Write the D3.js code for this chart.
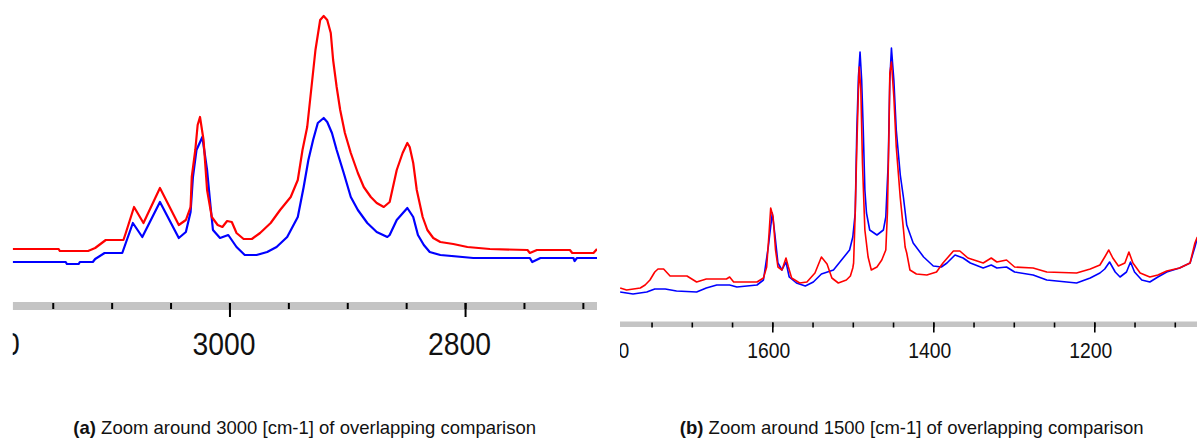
<!DOCTYPE html>
<html>
<head>
<meta charset="utf-8">
<script src="https://cdn.jsdelivr.net/npm/d3@7"></script>
<style>
  body { margin: 0; background: #fff; }
  svg { display: block; font-family: Arial, "Liberation Sans", sans-serif; }
  .axis .domain { display: none; }
  .axis line { stroke: #000; }
</style>
</head>
<body>
<svg id="chart" width="1197" height="439"></svg>
<script>
// panel (a): wavenumber [cm-1], intensity (arb. units)
const redA = [[3184, 20.5], [3145, 20.5], [3144, 19.5], [3120, 19.5], [3114, 21], [3105, 25], [3090, 25], [3088, 28.5], [3081, 41.5], [3073, 33.5], [3059, 51], [3043, 32.5], [3037, 35], [3033, 41.5], [3032, 56.5], [3029, 70], [3027, 82.5], [3025, 86.5], [3022, 75], [3019, 50], [3015, 36.5], [3010, 32.5], [3006, 31.5], [3002, 34.5], [2998, 34], [2994, 28.5], [2988, 25.5], [2981, 25.5], [2974, 28.5], [2965, 33.5], [2957, 40], [2948, 46.5], [2942, 55], [2938, 70], [2934, 81.5], [2930, 103.5], [2927, 120], [2923, 135], [2920, 137], [2917, 135], [2914, 128.5], [2912, 115], [2909, 101.5], [2906, 90], [2902, 78.5], [2897, 68.5], [2891, 58.5], [2886, 51.5], [2880, 46.5], [2875, 43.5], [2869, 41.5], [2864, 44], [2858, 60], [2853, 68.5], [2849, 73.5], [2847, 71.5], [2844, 63.5], [2841, 50], [2836, 36.5], [2832, 30], [2827, 26], [2821, 24], [2810, 23], [2798, 21.5], [2779, 20.5], [2747, 20], [2745, 18.5], [2739, 20], [2711, 20], [2709, 18.5], [2691, 18.5], [2688, 20.5]];
const blueA = [[3184, 14], [3139, 14], [3138, 13], [3128, 13], [3127, 14], [3116, 14], [3114, 15.5], [3106, 18.5], [3091, 18.5], [3088, 23.5], [3082, 33.5], [3074, 26.5], [3059, 44], [3043, 26], [3037, 29], [3033, 39], [3031, 56.5], [3028, 70], [3023, 76.5], [3019, 60], [3016, 41.5], [3014, 30], [3008, 26], [3001, 27.5], [2994, 21.5], [2987, 17.5], [2977, 17.5], [2968, 19], [2960, 21.5], [2951, 26.5], [2942, 36.5], [2937, 51.5], [2933, 65], [2929, 75], [2925, 83.5], [2920, 86], [2917, 84], [2913, 78.5], [2909, 70], [2903, 58.5], [2897, 46.5], [2891, 40], [2883, 33.5], [2875, 29], [2866, 26.5], [2864, 27.5], [2858, 35], [2849, 41], [2844, 36.5], [2840, 27.5], [2835, 22.5], [2830, 19], [2821, 17.5], [2793, 16], [2745, 16], [2743, 14], [2736, 16], [2708, 16], [2707, 14.5], [2705, 16], [2688, 16]];
const minorTicksA = [3200, 3150, 3100, 3050, 3000, 2950, 2900, 2850, 2800, 2750, 2700];
const majorTicksA = [3200, 3000, 2800];

// panel (b)
const redB = [[1789, 6], [1781, 5], [1764, 6], [1758, 7.5], [1752, 10], [1746, 14], [1742, 15.5], [1735, 15.5], [1727, 12], [1719, 12], [1706, 12], [1694, 9], [1682, 10.5], [1657, 10.5], [1653, 11.5], [1648, 9], [1619, 9], [1611, 11], [1607, 16.5], [1604, 33.5], [1602, 46], [1599, 41.5], [1596, 25], [1593, 16.5], [1588, 15], [1583, 21], [1580, 16.5], [1576, 11], [1566, 8.5], [1557, 9], [1547, 13.5], [1539, 21.5], [1532, 18], [1526, 11], [1518, 8.5], [1508, 10], [1503, 12], [1500, 16], [1499, 18.5], [1497, 43.5], [1495, 76.5], [1493, 105], [1492, 116.5], [1490, 105], [1488, 68.5], [1485, 35], [1481, 21.5], [1477, 15], [1470, 16.5], [1464, 20], [1459, 25], [1457, 43.5], [1455, 85], [1454, 113.5], [1452, 119], [1449, 101.5], [1446, 76.5], [1441, 51], [1437, 35], [1435, 26.5], [1433, 23.5], [1429, 15], [1421, 13], [1408, 12.5], [1396, 14], [1388, 18.5], [1375, 24.5], [1367, 24.5], [1357, 21], [1338, 18.5], [1328, 21], [1321, 19], [1309, 20], [1299, 16.5], [1276, 16], [1259, 14], [1222, 13.5], [1205, 15.5], [1193, 17.5], [1187, 21.5], [1182, 25], [1177, 21], [1170, 17], [1162, 18.5], [1157, 24], [1152, 18.5], [1143, 13.5], [1131, 11.5], [1121, 12.5], [1110, 14.5], [1094, 16], [1081, 18.5], [1075, 28.5], [1072, 31.5]];
const blueB = [[1789, 4], [1773, 3], [1756, 4], [1746, 5.5], [1733, 5.5], [1719, 4.5], [1694, 4], [1682, 6], [1669, 7.5], [1653, 7.5], [1644, 6.5], [1619, 7.5], [1611, 10], [1605, 26.5], [1600, 43.5], [1597, 33.5], [1593, 18.5], [1588, 15], [1583, 19], [1579, 11.5], [1570, 8.5], [1559, 7], [1549, 9], [1539, 13], [1524, 15], [1512, 21], [1504, 25], [1500, 31.5], [1497, 43.5], [1495, 85], [1493, 111.5], [1491, 124], [1489, 110], [1487, 85], [1485, 55], [1483, 43.5], [1479, 35], [1470, 32.5], [1462, 35], [1459, 41.5], [1456, 68.5], [1454, 110], [1452, 126], [1449, 110], [1446, 85], [1441, 62.5], [1437, 51], [1433, 37.5], [1425, 28.5], [1412, 21.5], [1400, 17], [1390, 16.5], [1383, 18.5], [1373, 22.5], [1363, 21], [1354, 18.5], [1338, 16], [1328, 17.5], [1321, 16], [1309, 16.5], [1299, 14], [1276, 12.5], [1259, 10], [1222, 8.5], [1205, 11], [1193, 13.5], [1187, 15.5], [1181, 19], [1174, 14], [1168, 11.5], [1160, 14], [1155, 19], [1150, 14], [1141, 10], [1131, 9], [1121, 11.5], [1110, 14], [1094, 16], [1081, 18.5], [1075, 26.5], [1072, 31]];
const minorTicksB = [1800, 1750, 1700, 1650, 1600, 1550, 1500, 1450, 1400, 1350, 1300, 1250, 1200, 1150, 1100];
const majorTicksB = [1800, 1600, 1400, 1200];

const captionA = ["(a)", " Zoom around 3000 [cm-1] of overlapping comparison"];
const captionB = ["(b)", " Zoom around 1500 [cm-1] of overlapping comparison"];

const svg = d3.select("#chart");
const defs = svg.append("defs");

function drawPanel(id, o) {
  defs.append("clipPath").attr("id", "clip-" + id)
    .append("rect")
    .attr("x", o.left).attr("y", 0)
    .attr("width", o.right - o.left).attr("height", 400);

  const g = svg.append("g").attr("clip-path", `url(#clip-${id})`);
  const x = d3.scaleLinear().domain(o.domain).range([o.left, o.right]);
  const y = d3.scaleLinear().domain([0, o.ymax]).range([o.base, 0]);

  // grey axis bar
  g.append("rect")
    .attr("x", o.left).attr("y", o.barY)
    .attr("width", o.right - o.left).attr("height", o.barH)
    .attr("fill", "#c4c4c4");

  g.append("g")
    .attr("class", "axis")
    .attr("transform", `translate(0,${o.barY + 1})`)
    .call(d3.axisBottom(x).tickValues(o.minor).tickSize(o.minorLen).tickFormat(""))
    .selectAll("line").attr("stroke-width", o.tickW);

  const major = g.append("g")
    .attr("class", "axis")
    .attr("transform", `translate(0,${o.barY + 1})`)
    .call(d3.axisBottom(x).tickValues(o.major).tickSize(o.majorLen).tickFormat(d3.format("d")));
  major.selectAll("line").attr("stroke-width", o.tickW);
  major.selectAll("text")
    .attr("x", o.labelDx)
    .attr("y", o.labelY - o.barY - 1)
    .attr("dy", 0)
    .attr("fill", "#111")
    .attr("font-family", "Arial, 'Liberation Sans', sans-serif")
    .attr("font-size", o.fontSize)
    .attr("textLength", o.labelW)
    .attr("lengthAdjust", "spacingAndGlyphs");

  const line = d3.line().x(d => x(d[0])).y(d => y(d[1]));
  [[o.blue, "#0000ff"], [o.red, "#ff0000"]].forEach(([data, color]) => {
    g.append("path")
      .datum(data)
      .attr("d", line)
      .attr("fill", "none")
      .attr("stroke", color)
      .attr("stroke-width", o.lineW)
      .attr("stroke-linejoin", "round");
  });
}

drawPanel("a", {
  left: 12.7, right: 597, domain: [3184, 2688],
  ymax: 145, base: 290,
  barY: 302, barH: 8, minorLen: 6, majorLen: 14, tickW: 2,
  minor: minorTicksA, major: majorTicksA,
  labelDx: -6, labelY: 355, fontSize: 32, labelW: 63,
  lineW: 2.2, red: redA, blue: blueA
});

drawPanel("b", {
  left: 620, right: 1197, domain: [1789.2, 1072.4],
  ymax: 150, base: 300,
  barY: 321.5, barH: 5.5, minorLen: 5, majorLen: 10, tickW: 1.6,
  minor: minorTicksB, major: majorTicksB,
  labelDx: -4, labelY: 358, fontSize: 22, labelW: 43,
  lineW: 1.6, red: redB, blue: blueB
});

[[captionA, 304.7], [captionB, 911.7]].forEach(([cap, cx]) => {
  const t = svg.append("text")
    .attr("x", cx).attr("y", 434)
    .attr("text-anchor", "middle")
    .attr("font-size", 18.5)
    .attr("fill", "#111");
  t.append("tspan").attr("font-weight", "bold").text(cap[0]);
  t.append("tspan").text(cap[1]);
});
</script>
</body>
</html>
